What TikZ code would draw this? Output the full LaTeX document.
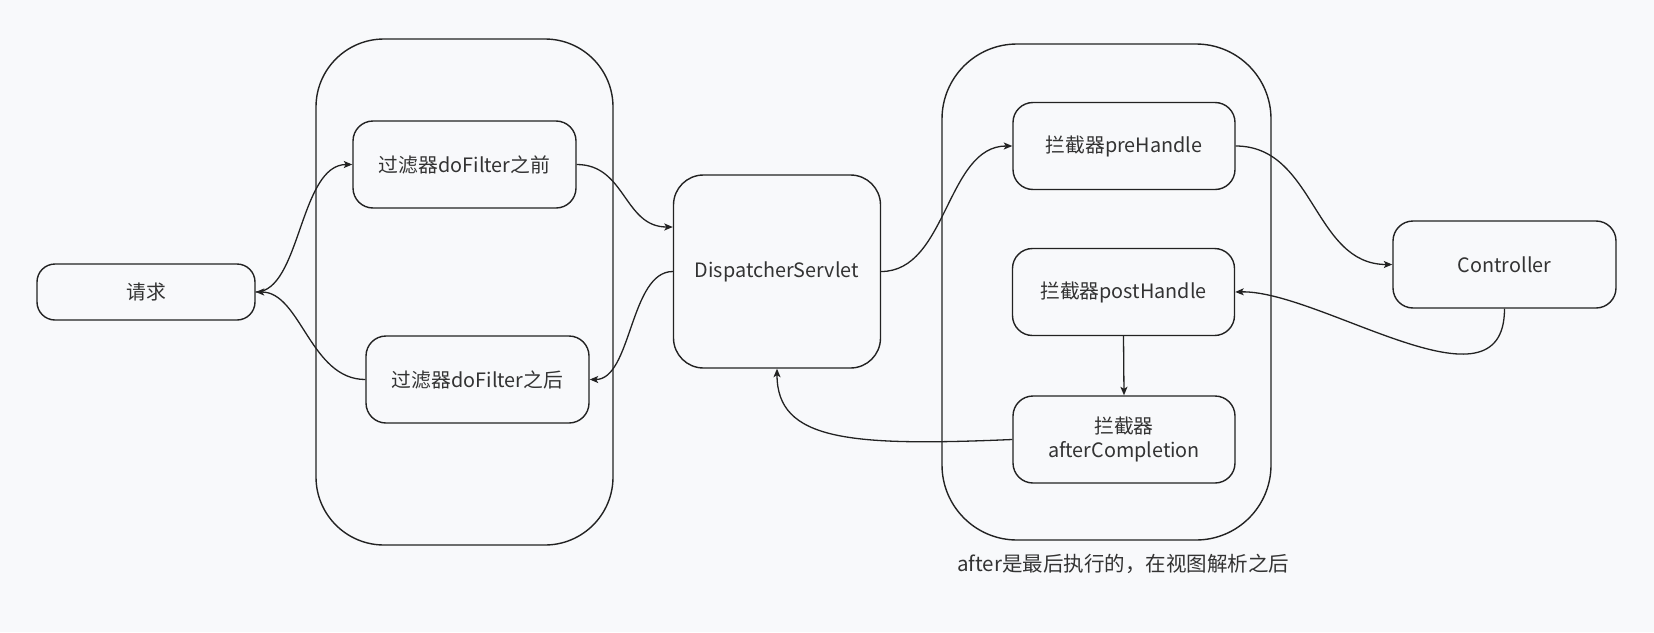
\documentclass[tikz,border=0pt]{standalone}
\usepackage{fontspec}
\setmainfont{Noto Sans CJK SC}
\usetikzlibrary{arrows.meta}
\definecolor{bg}{HTML}{F8F9FB}
\definecolor{ln}{HTML}{222222}
\definecolor{tx}{HTML}{333333}
\begin{document}
\begin{tikzpicture}[x=1pt,y=-1pt,
  box/.style={draw=ln, line width=1.4pt, fill=bg, rounded corners=20pt, text=tx, font=\fontsize{19.8}{24}\selectfont, align=center, inner sep=0pt},
  group/.style={draw=ln, line width=1.4pt, inner sep=0pt},
  arr/.style={draw=ln, line width=1.3pt, -{Stealth[length=8.5pt,width=7pt,inset=2pt]}}]
\fill[bg] (0,0) rectangle (1654,632);
\useasboundingbox (0,0) rectangle (1654,632);
% containers
\node[group, rounded corners=68pt, minimum width=297pt, minimum height=506pt] (fgroup) at (464.5,292) {};
\node[group, rounded corners=75pt, minimum width=329pt, minimum height=496pt] (igroup) at (1106.5,292) {};
% nodes
\node[box, rounded corners=18pt, minimum width=218pt, minimum height=56pt] (req) at (146,292) {请求};
\node[box, minimum width=223pt, minimum height=87pt] (before) at (464.5,164.5) {过滤器doFilter之前};
\node[box, minimum width=223pt, minimum height=87pt] (after) at (477.5,379.5) {过滤器doFilter之后};
\node[box, rounded corners=30pt, minimum width=207pt, minimum height=193pt] (disp) at (777,271.5) {DispatcherServlet};
\node[box, minimum width=222pt, minimum height=87pt] (pre) at (1124,146) {拦截器preHandle};
\node[box, minimum width=222pt, minimum height=87pt] (post) at (1123.5,292) {拦截器postHandle};
\node[box, minimum width=222pt, minimum height=87pt] (comp) at (1124,439.5) {拦截器\\afterCompletion};
\node[box, minimum width=223pt, minimum height=87pt] (ctrl) at (1504.5,264.5) {Controller};
\node[text=tx, font=\fontsize{20.5}{24}\selectfont, inner sep=0pt] (note) at (1123,564) {after是最后执行的，在视图解析之后};
% connectors
\draw[arr] (req.east) .. controls +(45,0) and +(-53,0) .. (before.west);
\draw[arr] (after.west) .. controls +(-55,0) and +(45,0) .. (req.east);
\draw[arr] (before.east) .. controls +(49,0) and +(-49,0) .. ([yshift=44.5pt]disp.west);
\draw[arr] (disp.west) .. controls +(-43,0) and +(42,0) .. (after.east);
\draw[arr] (disp.east) .. controls +(66,0) and +(-66,0) .. (pre.west);
\draw[arr] (pre.east) .. controls +(79,0) and +(-79,0) .. (ctrl.west);
\draw[arr] (ctrl.south) .. controls +(0,112) and +(85,-2) .. (post.east);
\draw[arr] (post.south) -- (comp.north);
\draw[arr] (comp.west) .. controls +(-163,7) and +(0,72) .. (disp.south);
\end{tikzpicture}
\end{document}
